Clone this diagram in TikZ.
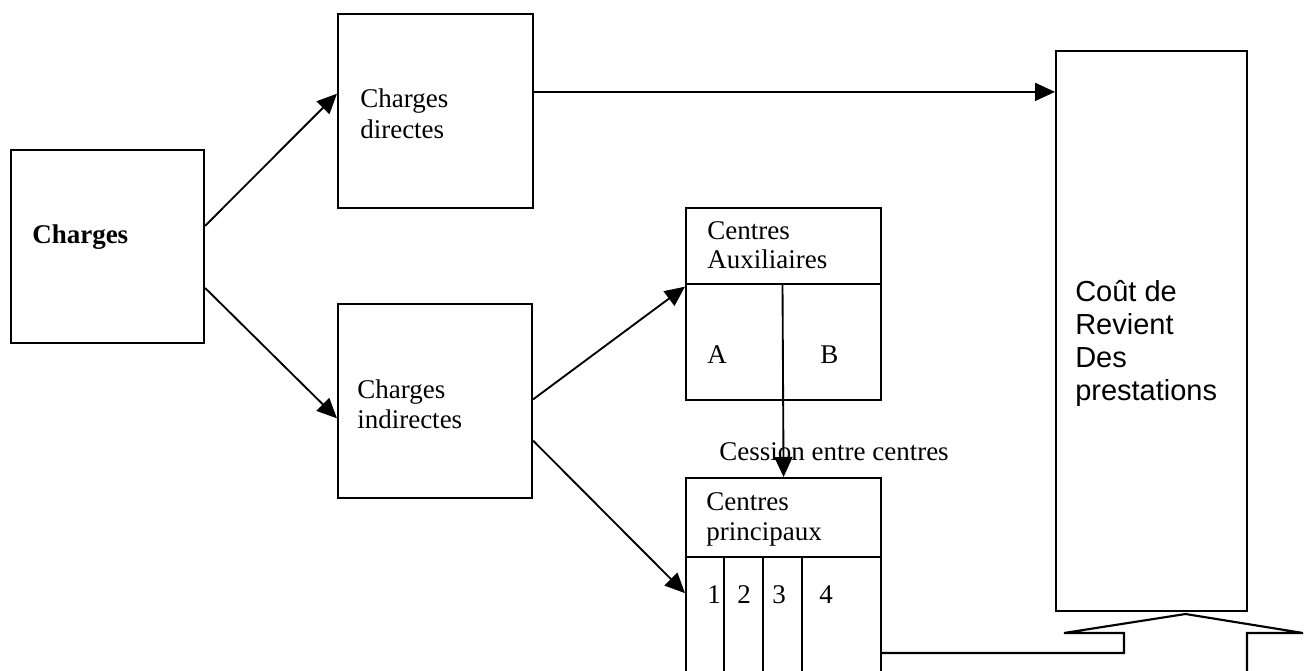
\documentclass[tikz,border=0pt]{standalone}
\usepackage{amsmath}
\usepackage{fontspec}
\setmainfont{Liberation Serif}
\newfontfamily\arialfont{Liberation Sans}
\usepackage{tikz}
\usetikzlibrary{arrows.meta}

\begin{document}
\begin{tikzpicture}[x=0.75pt,y=0.75pt,yscale=-1,xscale=1,
  box/.style={draw, line width=1.6pt, anchor=north west, inner sep=0pt},
  lbl/.style={anchor=base west, inner sep=0pt, font=\fontsize{20.25}{22.5}\selectfont},
  sanslbl/.style={anchor=base west, inner sep=0pt, font=\arialfont\fontsize{21.75}{24.75}\selectfont},
  line/.style={line width=1.6pt},
  arr/.style={line width=1.4pt, -{Triangle[length=15pt, width=13.5pt]}}]
\useasboundingbox (0,0) rectangle (1310,671);
\clip (0,0) rectangle (1310,671);

%Shape: Rectangle
\node [box, minimum width=144.75pt, minimum height=144.75pt] (charges) at (10,149) {};
%Shape: Rectangle
\node [box, minimum width=146.25pt, minimum height=145.5pt] (directes) at (337,13) {};
%Shape: Rectangle
\node [box, minimum width=145.5pt, minimum height=145.5pt] (indirectes) at (337,303) {};
%Shape: Rectangle
\node [box, minimum width=146.25pt, minimum height=144pt] (aux) at (685,207) {};
%Shape: Rectangle
\node [box, minimum width=146.25pt, minimum height=159.75pt] (princ) at (685,477) {};
%Shape: Rectangle
\node [box, minimum width=143.25pt, minimum height=420pt] (cout) at (1055,50) {};

\coordinate (auxcut) at (782.5,284);
\coordinate (princcut) at (782.5,557);

%Straight Lines
\draw [line] (aux.west |- auxcut) -- (aux.east |- auxcut) ;
%Straight Lines
\draw [line] (princ.west |- princcut) -- (princ.east |- princcut) ;
\draw [line] (724,557) -- (724,690) ;
\draw [line] (763,557) -- (763,690) ;
\draw [line] (802,557) -- (802,690) ;

%Straight Lines
\draw [arr] (charges.12) -- (directes.170) ;
%Straight Lines
\draw [arr] (charges.-23) -- (indirectes.190) ;
%Straight Lines
\draw [arr] (directes.11) -- (directes.11 -| cout.west) ;
%Straight Lines
\draw [arr] (indirectes.1) -- (aux.170) ;
%Straight Lines
\draw [arr] (indirectes.338) -- (princ.185) ;
%Straight Lines
\draw [arr] (auxcut) -- (princ.north) ;

%Shape: Up Arrow
\draw [line] (princ.east |- 0,653) -- (1124,653) -- (1124,633) -- (1064,633) -- (1185.5,614) -- (1303,633) -- (1247,633) -- (1247,690) ;

% Text Node
\node [lbl] (chargesT) at (32,243) {\textbf{Charges}};
% Text Node
\node [lbl] (directesA) at (360,107) {Charges};
\node [lbl] (directesB) at (360,138) {directes};
% Text Node
\node [lbl] (indirectesA) at (357,398) {Charges};
\node [lbl] (indirectesB) at (357,428) {indirectes};
% Text Node
\node [lbl] (auxA) at (707,239) {Centres};
\node [lbl] (auxB) at (707,268) {Auxiliaires};
\node [lbl] (auxC) at (707,363) {A};
\node [lbl] (auxD) at (820,363) {B};
% Text Node
\node [lbl, anchor=base] (cession) at (834,460) {Cession entre centres};
% Text Node
\node [lbl] (princA) at (706,510) {Centres};
\node [lbl] (princB) at (706,540) {principaux};
\node [lbl] (princC) at (707,603) {1};
\node [lbl] (princD) at (737,603) {2};
\node [lbl] (princE) at (772,603) {3};
\node [lbl] (princF) at (819,603) {4};
% Text Node
\node [sanslbl] (coutA) at (1075,301) {Coût de};
\node [sanslbl] (coutB) at (1075,334) {Revient};
\node [sanslbl] (coutC) at (1075,367) {Des};
\node [sanslbl] (coutD) at (1075,400) {prestations};

\end{tikzpicture}
\end{document}
